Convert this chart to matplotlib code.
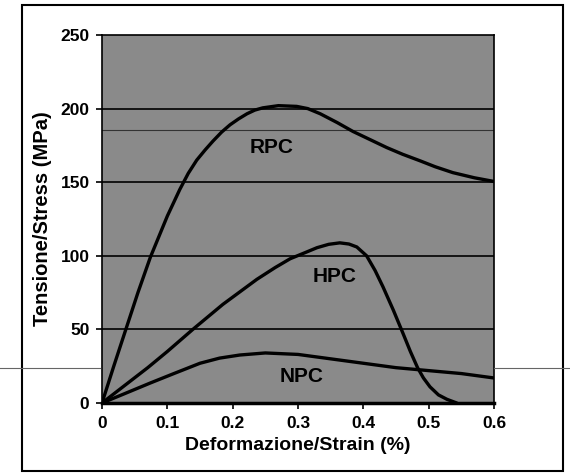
import numpy as np
import matplotlib
matplotlib.use("Agg")
import matplotlib.pyplot as plt
from matplotlib.patches import Rectangle
from matplotlib.lines import Line2D

# values
rpc_strain = [0, 0.018, 0.035, 0.055, 0.074, 0.1, 0.119, 0.132, 0.145, 0.158, 0.17, 0.183,
              0.196, 0.209, 0.222, 0.234, 0.246, 0.27, 0.298, 0.315, 0.334, 0.36, 0.384,
              0.41, 0.436, 0.46, 0.487, 0.51, 0.537, 0.57, 0.6]
rpc_stress = [0, 25, 48, 75, 99, 127, 145, 156, 165, 172, 178, 184,
              189, 193, 196.5, 199, 200.5, 202, 201.5, 200, 196.5, 190.5, 184.5,
              179, 173.5, 169, 164.5, 160.5, 156.5, 153, 150.5]

hpc_strain = [0, 0.07, 0.1, 0.139, 0.185, 0.237, 0.265, 0.288, 0.31, 0.329, 0.347, 0.364,
              0.378, 0.39, 0.405, 0.418, 0.43, 0.446, 0.461, 0.472, 0.483, 0.492, 0.502,
              0.515, 0.528, 0.543]
hpc_stress = [0, 24, 35, 50, 67, 84, 92, 98, 102, 105.5, 107.8, 108.8,
              108, 106, 100, 90, 79, 63, 47, 35, 24, 17, 11,
              5.5, 2.5, 0]

npc_strain = [0, 0.03, 0.074, 0.11, 0.15, 0.18, 0.211, 0.25, 0.3, 0.35, 0.4, 0.45, 0.5, 0.55, 0.6]
npc_stress = [0, 5.5, 13.6, 20, 27, 30.5, 32.6, 34, 33, 30, 27, 24, 22, 20, 17]

x_ticks = [0, 0.1, 0.2, 0.3, 0.4, 0.5, 0.6]
y_ticks = [0, 50, 100, 150, 200, 250]

plt.rcParams["font.family"] = ["Liberation Sans", "DejaVu Sans"]

fig = plt.figure(figsize=(5.7, 4.74), dpi=100)
fig.patch.set_facecolor("white")

# outer frame and scan line
fig.add_artist(Rectangle((22 / 570, 1 - 471 / 474), 541 / 570, 466 / 474,
                         transform=fig.transFigure, fill=False, edgecolor="black", linewidth=1.5))
fig.add_artist(Line2D([0, 100 / 570], [1 - 368 / 474] * 2, transform=fig.transFigure,
                      color="#666666", linewidth=0.8))
fig.add_artist(Line2D([494 / 570, 1], [1 - 368 / 474] * 2, transform=fig.transFigure,
                      color="#666666", linewidth=0.8))

ax = fig.add_axes([102 / 570, 1 - 403 / 474, 392 / 570, 368 / 474])
ax.set_facecolor("#8a8a8a")

for v in [50, 100, 150, 200]:
    ax.axhline(v, color="#141414", linewidth=1.4, zorder=1)
ax.axhline(185.5, color="#333333", linewidth=0.8, zorder=1)

for xs, ys in [(rpc_strain, rpc_stress), (hpc_strain, hpc_stress), (npc_strain, npc_stress)]:
    ax.plot(xs, ys, color="black", linewidth=2.4, zorder=3,
            solid_joinstyle="round", solid_capstyle="round")

ax.text(0.259, 173.7, "RPC", fontsize=15, fontweight="bold", ha="center", va="center", zorder=4)
ax.text(0.356, 85.7, "HPC", fontsize=15, fontweight="bold", ha="center", va="center", zorder=4)
ax.text(0.305, 17.7, "NPC", fontsize=15, fontweight="bold", ha="center", va="center", zorder=4)

ax.set_xlim(0, 0.6)
ax.set_ylim(0, 250)
ax.set_xticks(x_ticks)
ax.set_xticklabels([f"{t:g}" for t in x_ticks])
ax.set_yticks(y_ticks)
ax.tick_params(axis="both", labelsize=12.5, length=4, width=1.2, direction="out", pad=5)
for lab in ax.get_xticklabels() + ax.get_yticklabels():
    lab.set_fontweight("bold")

for side in ["left", "top", "right"]:
    ax.spines[side].set_linewidth(1.2)
ax.spines["bottom"].set_linewidth(2.5)

ax.set_xlabel("Deformazione/Strain (%)", fontsize=14, fontweight="bold", labelpad=5)
ax.set_ylabel("Tensione/Stress (MPa)", fontsize=14.5, fontweight="bold", labelpad=6)

fig.savefig("out.png", dpi=100)
